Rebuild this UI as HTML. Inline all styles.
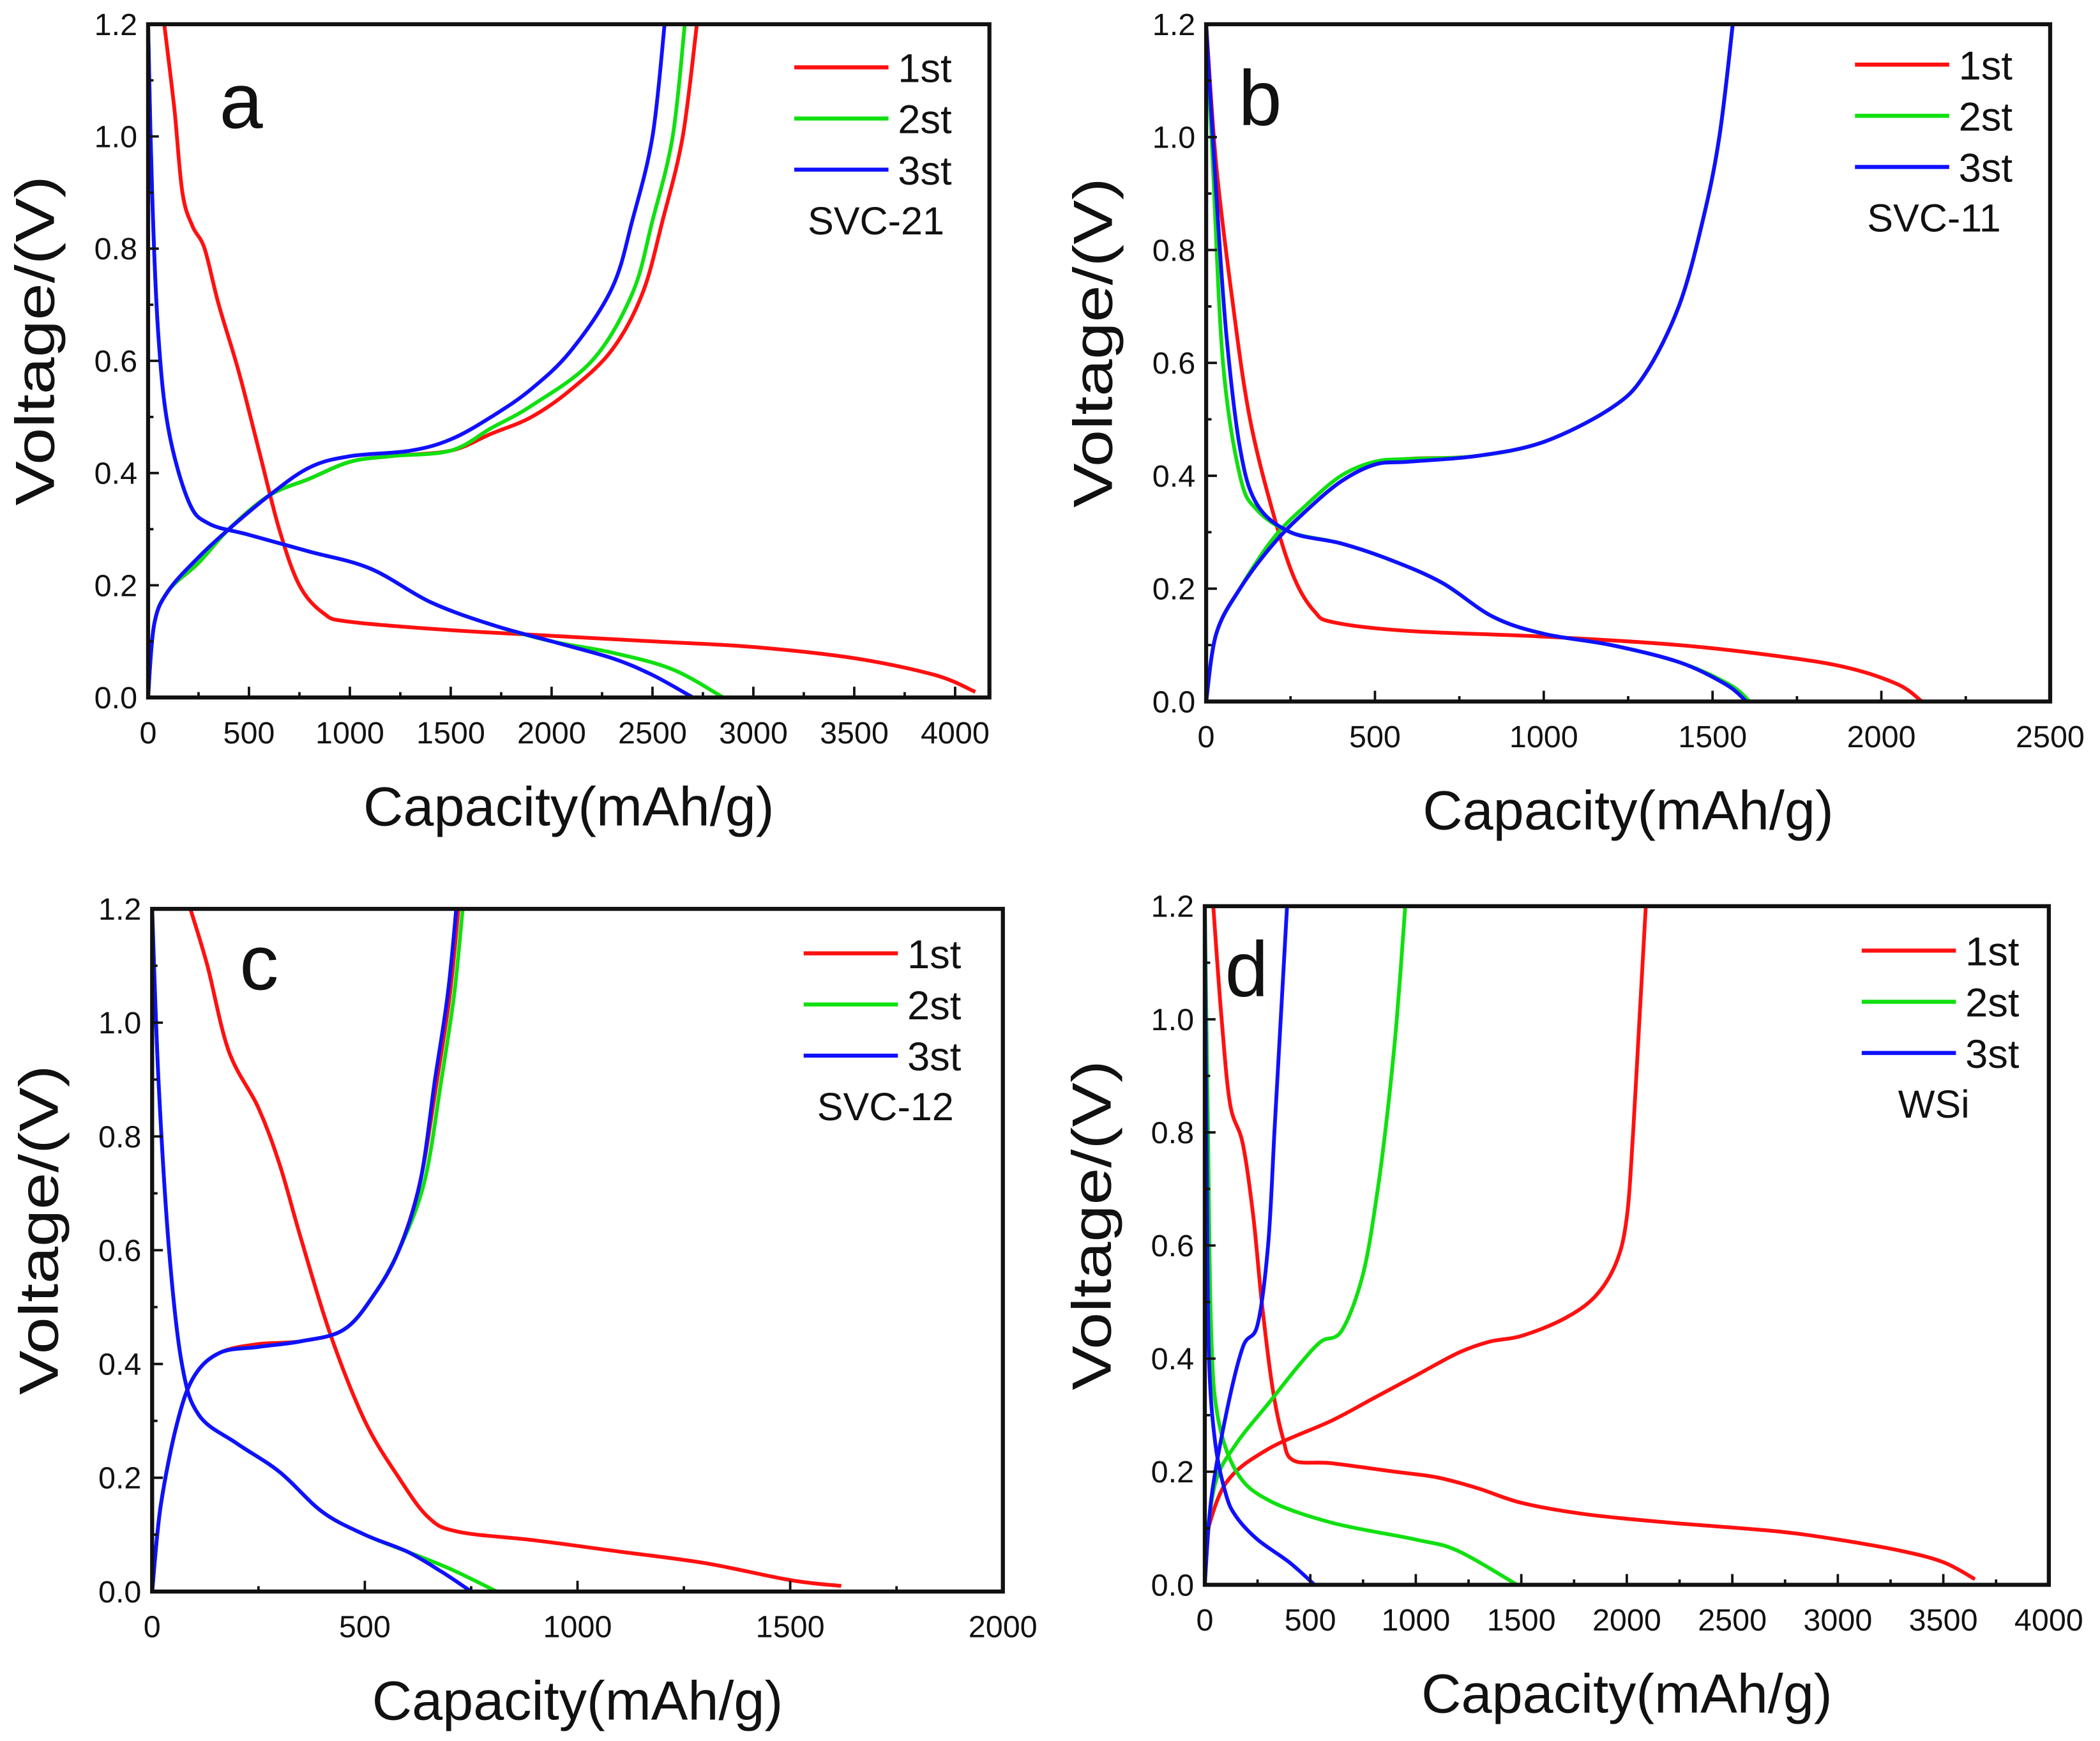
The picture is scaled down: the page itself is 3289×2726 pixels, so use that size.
<!DOCTYPE html>
<html><head><meta charset="utf-8"><style>
html,body{margin:0;padding:0;background:#fff}
svg{display:block}
text{font-family:"Liberation Sans",Arial,sans-serif;fill:#111}
</style></head><body>
<svg id="fig" width="3289" height="2726" viewBox="0 0 1560 1293" xmlns="http://www.w3.org/2000/svg"></svg>
<script>
// Panel a (SVC-21)
const aDis1=[[80,1.2],[130,1.05],[170,0.9],[220,0.84],[280,0.8],[350,0.7],[450,0.58],[550,0.44],[650,0.3],[750,0.2],[870,0.15],[1000,0.135],[1500,0.12],[2000,0.11],[2500,0.1],[3000,0.09],[3500,0.07],[3900,0.04],[4100,0.01]];
const aChg1=[[0,0],[30,0.13],[100,0.19],[250,0.24],[400,0.3],[600,0.36],[800,0.39],[1000,0.42],[1200,0.43],[1500,0.44],[1700,0.47],[1900,0.5],[2100,0.55],[2300,0.62],[2450,0.72],[2550,0.85],[2650,1.0],[2720,1.2]];
const aDis2=[[0,1.2],[20,0.9],[50,0.65],[100,0.48],[200,0.35],[300,0.31],[500,0.29],[800,0.26],[1100,0.23],[1400,0.17],[1700,0.13],[2000,0.1],[2300,0.08],[2600,0.05],[2850,0.0]];
const aChg2=[[0,0],[30,0.13],[100,0.19],[250,0.24],[400,0.3],[600,0.36],[800,0.39],[1000,0.42],[1200,0.43],[1500,0.44],[1700,0.48],[1900,0.52],[2200,0.6],[2400,0.72],[2500,0.85],[2600,1.0],[2660,1.2]];
const aDis3=[[0,1.2],[20,0.9],[50,0.65],[100,0.48],[200,0.35],[300,0.31],[500,0.29],[800,0.26],[1100,0.23],[1400,0.17],[1700,0.13],[2000,0.1],[2300,0.07],[2500,0.04],[2700,0.0]];
const aChg3=[[0,0],[30,0.13],[100,0.19],[250,0.25],[400,0.3],[600,0.36],[800,0.41],[1000,0.43],[1300,0.44],[1500,0.46],[1700,0.5],[1900,0.55],[2100,0.62],[2300,0.73],[2400,0.85],[2500,1.0],[2560,1.2]];
// Panel b (SVC-11)
const bDis1=[[0,1.2],[30,0.95],[80,0.7],[130,0.5],[200,0.33],[260,0.22],[320,0.16],[380,0.14],[600,0.125],[1000,0.115],[1400,0.1],[1700,0.08],[1900,0.06],[2050,0.03],[2120,0.0]];
const bChg1=[[0,0],[30,0.12],[100,0.2],[200,0.28],[300,0.34],[400,0.39],[500,0.42],[600,0.43],[800,0.435],[1000,0.46],[1200,0.52],[1300,0.58],[1400,0.7],[1470,0.85],[1520,1.0],[1560,1.2]];
const bDis2=[[0,1.2],[20,0.95],[50,0.6],[100,0.4],[150,0.34],[250,0.3],[400,0.28],[550,0.25],[700,0.21],[850,0.15],[1000,0.12],[1200,0.1],[1400,0.07],[1550,0.03],[1610,0.0]];
const bChg2=[[0,0],[30,0.12],[100,0.2],[200,0.29],[300,0.35],[400,0.4],[500,0.425],[600,0.43],[800,0.435],[1000,0.46],[1200,0.52],[1300,0.58],[1400,0.7],[1470,0.85],[1520,1.0],[1560,1.2]];
const bDis3=[[0,1.2],[30,0.9],[60,0.65],[100,0.45],[150,0.35],[250,0.3],[400,0.28],[550,0.25],[700,0.21],[850,0.15],[1000,0.12],[1200,0.1],[1400,0.07],[1540,0.03],[1600,0.0]];
const bChg3=[[0,0],[30,0.12],[100,0.2],[200,0.28],[300,0.34],[400,0.39],[500,0.42],[600,0.425],[800,0.435],[1000,0.46],[1200,0.52],[1300,0.58],[1400,0.7],[1470,0.85],[1520,1.0],[1560,1.2]];
// Panel c (SVC-12)
const cDis1=[[90,1.2],[130,1.1],[180,0.95],[250,0.85],[300,0.75],[350,0.62],[420,0.45],[500,0.3],[580,0.2],[650,0.13],[720,0.105],[900,0.09],[1100,0.07],[1300,0.05],[1500,0.02],[1620,0.01]];
const cChg1=[[0,0],[20,0.15],[60,0.3],[100,0.38],[160,0.42],[250,0.435],[350,0.44],[450,0.46],[520,0.52],[580,0.6],[630,0.72],[670,0.9],[700,1.05],[720,1.2]];
const cDis2=[[0,1.2],[15,0.9],[40,0.6],[70,0.4],[110,0.31],[200,0.26],[300,0.21],[400,0.14],[500,0.1],[600,0.07],[700,0.04],[810,0.0]];
const cChg2=[[0,0],[20,0.15],[60,0.3],[100,0.38],[160,0.42],[250,0.43],[350,0.44],[450,0.46],[520,0.52],[580,0.6],[640,0.72],[680,0.9],[710,1.05],[730,1.2]];
const cDis3=[[0,1.2],[15,0.9],[40,0.6],[70,0.4],[110,0.31],[200,0.26],[300,0.21],[400,0.14],[500,0.1],[600,0.07],[680,0.035],[750,0.0]];
const cChg3=[[0,0],[20,0.15],[60,0.3],[100,0.38],[160,0.42],[250,0.43],[350,0.44],[450,0.46],[520,0.52],[580,0.6],[630,0.72],[665,0.9],[695,1.05],[715,1.2]];
// Panel d (WSi)
const dDis1=[[40,1.2],[80,1.0],[120,0.85],[180,0.78],[230,0.65],[270,0.5],[320,0.35],[370,0.26],[420,0.22],[600,0.215],[900,0.2],[1100,0.19],[1300,0.17],[1500,0.145],[1800,0.125],[2200,0.11],[2700,0.095],[3000,0.08],[3300,0.06],[3500,0.04],[3650,0.01]];
const dChg1=[[0,0.08],[100,0.18],[300,0.24],[600,0.29],[800,0.33],[1000,0.37],[1200,0.41],[1350,0.43],[1500,0.44],[1700,0.47],[1850,0.51],[1950,0.57],[2000,0.65],[2030,0.8],[2060,1.0],[2090,1.2]];
const dDis2=[[0,1.2],[15,0.8],[30,0.45],[60,0.3],[150,0.2],[300,0.15],[600,0.11],[1000,0.08],[1200,0.06],[1480,0.0]];
const dChg2=[[0,0.05],[50,0.18],[150,0.25],[300,0.32],[450,0.39],[550,0.43],[650,0.45],[750,0.55],[820,0.7],[870,0.85],[910,1.0],[950,1.2]];
const dDis3=[[0,1.2],[10,0.7],[20,0.4],[50,0.25],[100,0.16],[150,0.12],[250,0.08],[400,0.04],[520,0.0]];
const dChg3=[[0,0],[30,0.15],[100,0.3],[180,0.42],[250,0.46],[300,0.6],[330,0.8],[360,1.0],[390,1.2]];

const yTicks=[0,0.2,0.4,0.6,0.8,1.0,1.2];
const seriesNames=['1st','2st','3st'];
const colors=['#ff1010','#10e010','#1010ff'];

const panels=[
 {id:'a',x0:110,x1:735,y0:18,y1:518,xmax:4170,xstep:500,label:'SVC-21',series:[[aDis1,aChg1],[aDis2,aChg2],[aDis3,aChg3]],lx:590,ly:50,tx:600,letter:[163,95]},
 {id:'b',x0:896,x1:1523,y0:18,y1:521,xmax:2500,xstep:500,label:'SVC-11',series:[[bDis1,bChg1],[bDis2,bChg2],[bDis3,bChg3]],lx:1378,ly:48,tx:1387,letter:[920,93]},
 {id:'c',x0:113,x1:745,y0:675,y1:1182,xmax:2000,xstep:500,label:'SVC-12',series:[[cDis1,cChg1],[cDis2,cChg2],[cDis3,cChg3]],lx:597,ly:708,tx:607,letter:[178,735]},
 {id:'d',x0:895,x1:1522,y0:673,y1:1177,xmax:4000,xstep:500,label:'WSi',series:[[dDis1,dChg1],[dDis2,dChg2],[dDis3,dChg3]],lx:1383,ly:706,tx:1410,letter:[910,740]}
];
const NS='http://www.w3.org/2000/svg';
const svg=document.getElementById('fig');
function mk(tag,attrs,parent){const e=document.createElementNS(NS,tag);for(const k in attrs)e.setAttribute(k,attrs[k]);(parent||svg).appendChild(e);return e;}
function smooth(pts){
 let d='M'+pts[0][0].toFixed(1)+','+pts[0][1].toFixed(1);
 for(let i=0;i<pts.length-1;i++){
  const p0=pts[Math.max(0,i-1)],p1=pts[i],p2=pts[i+1],p3=pts[Math.min(pts.length-1,i+2)];
  const c1=[p1[0]+(p2[0]-p0[0])/6,p1[1]+(p2[1]-p0[1])/6];
  const c2=[p2[0]-(p3[0]-p1[0])/6,p2[1]-(p3[1]-p1[1])/6];
  d+=' C'+c1[0].toFixed(1)+','+c1[1].toFixed(1)+' '+c2[0].toFixed(1)+','+c2[1].toFixed(1)+' '+p2[0].toFixed(1)+','+p2[1].toFixed(1);
 }
 return d;
}

panels.forEach(p=>{
 const g=mk('g',{});
 
 
 const sx=v=>p.x0+(v/p.xmax)*(p.x1-p.x0);
 const sy=v=>p.y1-(v/1.2)*(p.y1-p.y0);
 const cp=mk('clipPath',{id:'clip-'+p.id},g);
 mk('rect',{x:p.x0,y:p.y0,width:p.x1-p.x0,height:p.y1-p.y0},cp);
 p.series.forEach((pair,i)=>{
  pair.forEach((arr,j)=>{
   const pl=mk('path',{d:smooth(arr.map(d=>[sx(d[0]),sy(d[1])])),fill:'none',stroke:colors[i],'stroke-width':2.8,'stroke-linejoin':'round','clip-path':'url(#clip-'+p.id+')'},g);
   
   
  });
 });
 const fr=mk('rect',{x:p.x0,y:p.y0,width:p.x1-p.x0,height:p.y1-p.y0,fill:'none',stroke:'#111','stroke-width':3},g);
 
 
 for(let k=0;k<=12;k++){
  const v=k/10,y=sy(v),len=(k%2===0)?8:4;
  mk('line',{x1:p.x0,y1:y,x2:p.x0+len,y2:y,stroke:'#111','stroke-width':1.8},g);
 }
 yTicks.forEach(v=>{
  const t=mk('text',{x:p.x0-8,y:sy(v)+8,'text-anchor':'end','font-size':23},g);
  t.textContent=v.toFixed(1);
  
  
 });
 for(let v=0;v<=p.xmax+1;v+=p.xstep/2){
  const x=sx(v),major=(v%p.xstep===0);
  mk('line',{x1:x,y1:p.y1,x2:x,y2:p.y1-(major?8:4),stroke:'#111','stroke-width':1.8},g);
  if(major){
   const t=mk('text',{x:x,y:p.y1+34,'text-anchor':'middle','font-size':23},g);
   t.textContent=String(v);
   
   
  }
 }
 const xt=mk('text',{x:(p.x0+p.x1)/2,y:p.y1+95,'text-anchor':'middle','font-size':41},g);
 xt.textContent='Capacity(mAh/g)';
 
 
 const cy=(p.y0+p.y1)/2-15, cx=p.x0-70;
 const yt=mk('text',{x:cx,y:cy,'text-anchor':'middle','font-size':41,textLength:245,lengthAdjust:'spacingAndGlyphs',transform:'rotate(-90 '+cx+' '+cy+')'},g);
 yt.textContent='Voltage/(V)';
 
 
 const lt=mk('text',{x:p.letter[0],y:p.letter[1],'font-size':58},g);
 lt.textContent=p.id;
 
 
 seriesNames.forEach((n,i)=>{
  const y=p.ly+i*38;
  const ln=mk('line',{x1:p.lx,y1:y,x2:p.lx+70,y2:y,stroke:colors[i],'stroke-width':3},g);
  
  
  const t=mk('text',{x:p.lx+77,y:y+11,'font-size':30},g);
  t.textContent=n;
  
  
 });
 const st=mk('text',{x:p.tx,y:p.ly+124,'font-size':29},g);
 st.textContent=p.label;
 
 
});
</script>
</body></html>
